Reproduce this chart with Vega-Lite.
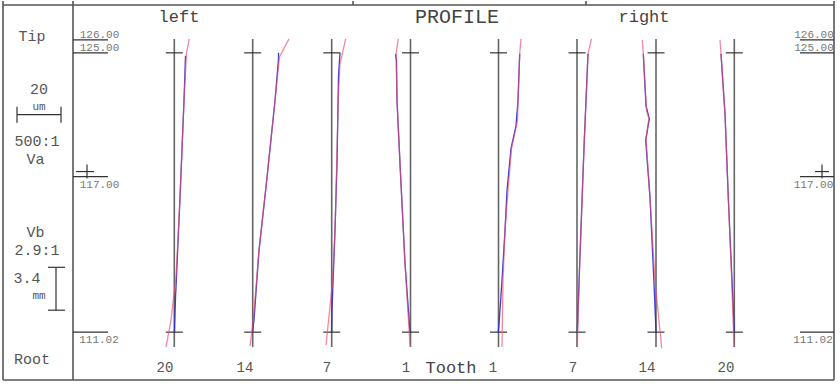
{
  "$schema": "https://vega.github.io/schema/vega-lite/v6.json",
  "width": 840,
  "height": 384,
  "autosize": {"type": "fit", "contains": "padding"},
  "padding": 0,
  "background": "white",
  "config": {"view": {"stroke": null}},
  "datasets": {
    "frame": [
      {"x": 1.5, "x2": 417, "y": 95, "y2": 95},
      {"x": 1.5, "x2": 417, "y": 1, "y2": 1},
      {"x": 1.5, "x2": 1.5, "y": 1, "y2": 96},
      {"x": 417, "x2": 417, "y": 1, "y2": 96},
      {"x": 36.5, "x2": 36.5, "y": 1, "y2": 96},
      {"x": 176.5, "x2": 176.5, "y": 95, "y2": 96},
      {"x": 293, "x2": 293, "y": 95, "y2": 96}
    ],
    "marks": [
      {"x": 36.5, "x2": 54, "y": 86.25, "y2": 86.25},
      {"x": 36.5, "x2": 54, "y": 83, "y2": 83},
      {"x": 36.5, "x2": 54, "y": 52, "y2": 52},
      {"x": 36.5, "x2": 54, "y": 13, "y2": 13},
      {"x": 400, "x2": 417, "y": 86.25, "y2": 86.25},
      {"x": 400, "x2": 417, "y": 83, "y2": 83},
      {"x": 400, "x2": 417, "y": 52, "y2": 52},
      {"x": 400, "x2": 417, "y": 13, "y2": 13},
      {"x": 38, "x2": 47, "y": 53.25, "y2": 53.25},
      {"x": 43.5, "x2": 43.5, "y": 55, "y2": 51.5},
      {"x": 407.5, "x2": 414.5, "y": 53.25, "y2": 53.25},
      {"x": 411, "x2": 411, "y": 55, "y2": 51.5},
      {"x": 8.5, "x2": 30.5, "y": 67.5, "y2": 67.5},
      {"x": 8.5, "x2": 8.5, "y": 69.5, "y2": 65.5},
      {"x": 30.5, "x2": 30.5, "y": 69.5, "y2": 65.5},
      {"x": 28, "x2": 28, "y": 29.25, "y2": 18.5},
      {"x": 24, "x2": 32.5, "y": 29.25, "y2": 29.25},
      {"x": 24, "x2": 32.5, "y": 18.5, "y2": 18.5}
    ],
    "refs": [
      {"x": 87.15, "x2": 87.15, "y": 86.5, "y2": 9.25},
      {"x": 126.35, "x2": 126.35, "y": 86.5, "y2": 9.25},
      {"x": 165.85, "x2": 165.85, "y": 86.5, "y2": 9.25},
      {"x": 205.25, "x2": 205.25, "y": 86.5, "y2": 9.25},
      {"x": 249.25, "x2": 249.25, "y": 86.5, "y2": 9.25},
      {"x": 288.5, "x2": 288.5, "y": 86.5, "y2": 9.25},
      {"x": 328, "x2": 328, "y": 86.5, "y2": 9.25},
      {"x": 367.15, "x2": 367.15, "y": 86.5, "y2": 9.25}
    ],
    "crosses": [
      {"x": 82.9, "x2": 91.4, "y": 83, "y2": 83},
      {"x": 82.9, "x2": 91.4, "y": 13, "y2": 13},
      {"x": 122.1, "x2": 130.6, "y": 83, "y2": 83},
      {"x": 122.1, "x2": 130.6, "y": 13, "y2": 13},
      {"x": 161.6, "x2": 170.1, "y": 83, "y2": 83},
      {"x": 161.6, "x2": 170.1, "y": 13, "y2": 13},
      {"x": 201, "x2": 209.5, "y": 83, "y2": 83},
      {"x": 201, "x2": 209.5, "y": 13, "y2": 13},
      {"x": 245, "x2": 253.5, "y": 83, "y2": 83},
      {"x": 245, "x2": 253.5, "y": 13, "y2": 13},
      {"x": 284.25, "x2": 292.75, "y": 83, "y2": 83},
      {"x": 284.25, "x2": 292.75, "y": 13, "y2": 13},
      {"x": 323.75, "x2": 332.25, "y": 83, "y2": 83},
      {"x": 323.75, "x2": 332.25, "y": 13, "y2": 13},
      {"x": 362.9, "x2": 371.4, "y": 83, "y2": 83},
      {"x": 362.9, "x2": 371.4, "y": 13, "y2": 13}
    ],
    "blue": [
      {"trace": "L20", "i": 1, "x": 92.75, "y": 82.25},
      {"trace": "L20", "i": 2, "x": 92, "y": 71},
      {"trace": "L20", "i": 3, "x": 90, "y": 46.75},
      {"trace": "L20", "i": 4, "x": 88.25, "y": 26.75},
      {"trace": "L20", "i": 5, "x": 87.75, "y": 21.75},
      {"trace": "L20", "i": 6, "x": 87.25, "y": 13},
      {"trace": "L14", "i": 1, "x": 139.25, "y": 83},
      {"trace": "L14", "i": 2, "x": 139.25, "y": 81.5},
      {"trace": "L14", "i": 3, "x": 137.5, "y": 71},
      {"trace": "L14", "i": 4, "x": 133.35, "y": 51},
      {"trace": "L14", "i": 5, "x": 129.5, "y": 33.5},
      {"trace": "L14", "i": 6, "x": 127, "y": 16},
      {"trace": "L14", "i": 7, "x": 126.25, "y": 13},
      {"trace": "L7", "i": 1, "x": 170, "y": 83},
      {"trace": "L7", "i": 2, "x": 169.25, "y": 77.25},
      {"trace": "L7", "i": 3, "x": 168.5, "y": 55.25},
      {"trace": "L7", "i": 4, "x": 167.5, "y": 38.5},
      {"trace": "L7", "i": 5, "x": 166.5, "y": 25.25},
      {"trace": "L7", "i": 6, "x": 166, "y": 18.5},
      {"trace": "L7", "i": 7, "x": 165.85, "y": 13},
      {"trace": "L1", "i": 1, "x": 197.75, "y": 82.75},
      {"trace": "L1", "i": 2, "x": 198.25, "y": 81},
      {"trace": "L1", "i": 3, "x": 198.5, "y": 71},
      {"trace": "L1", "i": 4, "x": 200, "y": 55.25},
      {"trace": "L1", "i": 5, "x": 202.5, "y": 30.25},
      {"trace": "L1", "i": 6, "x": 205, "y": 13},
      {"trace": "R1", "i": 1, "x": 259.85, "y": 82.75},
      {"trace": "R1", "i": 2, "x": 259, "y": 71},
      {"trace": "R1", "i": 3, "x": 258, "y": 64.75},
      {"trace": "R1", "i": 4, "x": 255.5, "y": 59},
      {"trace": "R1", "i": 5, "x": 253.5, "y": 48.5},
      {"trace": "R1", "i": 6, "x": 252.5, "y": 38.5},
      {"trace": "R1", "i": 7, "x": 251, "y": 26},
      {"trace": "R1", "i": 8, "x": 250, "y": 18.5},
      {"trace": "R1", "i": 9, "x": 249.15, "y": 13},
      {"trace": "R7", "i": 1, "x": 294, "y": 82.75},
      {"trace": "R7", "i": 2, "x": 292, "y": 59.25},
      {"trace": "R7", "i": 3, "x": 289.85, "y": 30.25},
      {"trace": "R7", "i": 4, "x": 288.65, "y": 13},
      {"trace": "R14", "i": 1, "x": 321.65, "y": 82.75},
      {"trace": "R14", "i": 2, "x": 323, "y": 69.75},
      {"trace": "R14", "i": 3, "x": 324.65, "y": 66.5},
      {"trace": "R14", "i": 4, "x": 322.85, "y": 61},
      {"trace": "R14", "i": 5, "x": 325, "y": 46.75},
      {"trace": "R14", "i": 6, "x": 327, "y": 25.25},
      {"trace": "R14", "i": 7, "x": 328, "y": 13},
      {"trace": "R20", "i": 1, "x": 360.5, "y": 82.75},
      {"trace": "R20", "i": 2, "x": 362.5, "y": 67.75},
      {"trace": "R20", "i": 3, "x": 364.15, "y": 46.75},
      {"trace": "R20", "i": 4, "x": 366, "y": 26},
      {"trace": "R20", "i": 5, "x": 367.15, "y": 13}
    ],
    "red": [
      {"trace": "L20", "i": 1, "x": 94.65, "y": 86.5},
      {"trace": "L20", "i": 2, "x": 93.25, "y": 83},
      {"trace": "L20", "i": 3, "x": 92, "y": 71},
      {"trace": "L20", "i": 4, "x": 90, "y": 46.75},
      {"trace": "L20", "i": 5, "x": 88, "y": 26.75},
      {"trace": "L20", "i": 6, "x": 85.5, "y": 16},
      {"trace": "L20", "i": 7, "x": 83, "y": 9.25},
      {"trace": "L14", "i": 1, "x": 144.5, "y": 86.5},
      {"trace": "L14", "i": 2, "x": 139.75, "y": 82},
      {"trace": "L14", "i": 3, "x": 137.5, "y": 71},
      {"trace": "L14", "i": 4, "x": 133.35, "y": 51},
      {"trace": "L14", "i": 5, "x": 129.5, "y": 33.5},
      {"trace": "L14", "i": 6, "x": 126.65, "y": 16},
      {"trace": "L14", "i": 7, "x": 125, "y": 9.5},
      {"trace": "L7", "i": 1, "x": 172.85, "y": 86.5},
      {"trace": "L7", "i": 2, "x": 170, "y": 80.25},
      {"trace": "L7", "i": 3, "x": 169.15, "y": 71.75},
      {"trace": "L7", "i": 4, "x": 168.35, "y": 55.25},
      {"trace": "L7", "i": 5, "x": 167.5, "y": 38.5},
      {"trace": "L7", "i": 6, "x": 166.35, "y": 26},
      {"trace": "L7", "i": 7, "x": 163, "y": 9.75},
      {"trace": "L1", "i": 1, "x": 199.15, "y": 86.5},
      {"trace": "L1", "i": 2, "x": 198, "y": 82.75},
      {"trace": "L1", "i": 3, "x": 198.5, "y": 71},
      {"trace": "L1", "i": 4, "x": 200, "y": 55.25},
      {"trace": "L1", "i": 5, "x": 202.5, "y": 30.25},
      {"trace": "L1", "i": 6, "x": 205, "y": 9.75},
      {"trace": "R1", "i": 1, "x": 260.5, "y": 86.5},
      {"trace": "R1", "i": 2, "x": 259.85, "y": 82.75},
      {"trace": "R1", "i": 3, "x": 259, "y": 71},
      {"trace": "R1", "i": 4, "x": 258.75, "y": 66},
      {"trace": "R1", "i": 5, "x": 255.75, "y": 59},
      {"trace": "R1", "i": 6, "x": 254, "y": 48.5},
      {"trace": "R1", "i": 7, "x": 252.5, "y": 38.5},
      {"trace": "R1", "i": 8, "x": 251.5, "y": 26},
      {"trace": "R1", "i": 9, "x": 251, "y": 9.25},
      {"trace": "R7", "i": 1, "x": 295.75, "y": 86.5},
      {"trace": "R7", "i": 2, "x": 294, "y": 82.75},
      {"trace": "R7", "i": 3, "x": 292, "y": 59.25},
      {"trace": "R7", "i": 4, "x": 289.85, "y": 30.25},
      {"trace": "R7", "i": 5, "x": 288.65, "y": 9.25},
      {"trace": "R14", "i": 1, "x": 321.15, "y": 86.25},
      {"trace": "R14", "i": 2, "x": 321.65, "y": 82.75},
      {"trace": "R14", "i": 3, "x": 323.25, "y": 68.5},
      {"trace": "R14", "i": 4, "x": 324.5, "y": 66.5},
      {"trace": "R14", "i": 5, "x": 323, "y": 61.5},
      {"trace": "R14", "i": 6, "x": 325, "y": 46.75},
      {"trace": "R14", "i": 7, "x": 327.5, "y": 26},
      {"trace": "R14", "i": 8, "x": 330.85, "y": 9},
      {"trace": "R20", "i": 1, "x": 360, "y": 86.25},
      {"trace": "R20", "i": 2, "x": 360.5, "y": 82.75},
      {"trace": "R20", "i": 3, "x": 362.5, "y": 67.75},
      {"trace": "R20", "i": 4, "x": 364.15, "y": 46.75},
      {"trace": "R20", "i": 5, "x": 365.85, "y": 26},
      {"trace": "R20", "i": 6, "x": 367, "y": 9.25}
    ],
    "texts": [
      {"x": 89.5, "y": 92, "t": "left", "role": "title"},
      {"x": 228.5, "y": 92, "t": "PROFILE", "role": "big"},
      {"x": 322, "y": 92, "t": "right", "role": "title"},
      {"x": 16, "y": 87.25, "t": "Tip", "role": "side"},
      {"x": 19.5, "y": 73.9, "t": "20", "role": "side"},
      {"x": 19.5, "y": 69.4, "t": "um", "role": "unit"},
      {"x": 18.5, "y": 61, "t": "500:1", "role": "side"},
      {"x": 17.75, "y": 56.5, "t": "Va", "role": "side"},
      {"x": 17.75, "y": 38, "t": "Vb", "role": "side"},
      {"x": 18.5, "y": 33.5, "t": "2.9:1", "role": "side"},
      {"x": 13.5, "y": 26.6, "t": "3.4", "role": "side"},
      {"x": 19.5, "y": 22.1, "t": "mm", "role": "unit"},
      {"x": 16, "y": 6.25, "t": "Root", "role": "side"},
      {"x": 49.75, "y": 87.5, "t": "126.00", "role": "val"},
      {"x": 49.75, "y": 84.25, "t": "125.00", "role": "val"},
      {"x": 49.75, "y": 50, "t": "117.00", "role": "val"},
      {"x": 49.5, "y": 11, "t": "111.02", "role": "val"},
      {"x": 407, "y": 87.5, "t": "126.00", "role": "val"},
      {"x": 407, "y": 84.25, "t": "125.00", "role": "val"},
      {"x": 406.75, "y": 50, "t": "117.00", "role": "val"},
      {"x": 406.5, "y": 11, "t": "111.02", "role": "val"},
      {"x": 82.5, "y": 4, "t": "20", "role": "num"},
      {"x": 122.5, "y": 4, "t": "14", "role": "num"},
      {"x": 163.5, "y": 4, "t": "7", "role": "num"},
      {"x": 203, "y": 4, "t": "1", "role": "num"},
      {"x": 225.5, "y": 4, "t": "Tooth", "role": "tooth"},
      {"x": 246.5, "y": 4, "t": "1", "role": "num"},
      {"x": 286.5, "y": 4, "t": "7", "role": "num"},
      {"x": 323.5, "y": 4, "t": "14", "role": "num"},
      {"x": 363, "y": 4, "t": "20", "role": "num"}
    ]
  },
  "encoding": {
    "x": {"field": "x", "type": "quantitative", "scale": {"domain": [0, 420], "nice": false, "zero": false}, "axis": null},
    "y": {"field": "y", "type": "quantitative", "scale": {"domain": [0, 96], "nice": false, "zero": false}, "axis": null}
  },
  "layer": [
    {
      "data": {"name": "frame"},
      "mark": {"type": "rule", "color": "#555555", "strokeWidth": 1.6},
      "encoding": {"x2": {"field": "x2"}, "y2": {"field": "y2"}}
    },
    {
      "data": {"name": "marks"},
      "mark": {"type": "rule", "color": "#333333", "strokeWidth": 1.2},
      "encoding": {"x2": {"field": "x2"}, "y2": {"field": "y2"}}
    },
    {
      "data": {"name": "refs"},
      "mark": {"type": "rule", "color": "#666666", "strokeWidth": 1.6},
      "encoding": {"x2": {"field": "x2"}, "y2": {"field": "y2"}}
    },
    {
      "data": {"name": "crosses"},
      "mark": {"type": "rule", "color": "#222222", "strokeWidth": 1.1},
      "encoding": {"x2": {"field": "x2"}, "y2": {"field": "y2"}}
    },
    {
      "data": {"name": "blue"},
      "mark": {"type": "line", "color": "#2a2ad0", "strokeWidth": 1.3, "opacity": 0.9},
      "encoding": {"detail": {"field": "trace"}, "order": {"field": "i", "type": "quantitative"}}
    },
    {
      "data": {"name": "red"},
      "mark": {"type": "line", "color": "#ee4a6a", "strokeWidth": 1.3, "opacity": 0.65},
      "encoding": {"detail": {"field": "trace"}, "order": {"field": "i", "type": "quantitative"}}
    },
    {
      "data": {"name": "texts"},
      "transform": [{"filter": "datum.role === 'title'"}],
      "mark": {"type": "text", "font": "Liberation Mono", "fontSize": 17, "fill": "#444444", "baseline": "middle", "align": "center"},
      "encoding": {"text": {"field": "t"}}
    },
    {
      "data": {"name": "texts"},
      "transform": [{"filter": "datum.role === 'big'"}],
      "mark": {"type": "text", "font": "Liberation Mono", "fontSize": 20, "fill": "#444444", "baseline": "middle", "align": "center"},
      "encoding": {"text": {"field": "t"}}
    },
    {
      "data": {"name": "texts"},
      "transform": [{"filter": "datum.role === 'side'"}],
      "mark": {"type": "text", "font": "Liberation Mono", "fontSize": 15, "fill": "#555555", "baseline": "middle", "align": "center"},
      "encoding": {"text": {"field": "t"}}
    },
    {
      "data": {"name": "texts"},
      "transform": [{"filter": "datum.role === 'unit'"}],
      "mark": {"type": "text", "font": "Liberation Mono", "fontSize": 11, "fill": "#555555", "baseline": "middle", "align": "center"},
      "encoding": {"text": {"field": "t"}}
    },
    {
      "data": {"name": "texts"},
      "transform": [{"filter": "datum.role === 'val'"}],
      "mark": {"type": "text", "font": "Liberation Mono", "fontSize": 11, "fill": "#777777", "baseline": "middle", "align": "center"},
      "encoding": {"text": {"field": "t"}}
    },
    {
      "data": {"name": "texts"},
      "transform": [{"filter": "datum.role === 'num'"}],
      "mark": {"type": "text", "font": "Liberation Mono", "fontSize": 14, "fill": "#555555", "baseline": "middle", "align": "center"},
      "encoding": {"text": {"field": "t"}}
    },
    {
      "data": {"name": "texts"},
      "transform": [{"filter": "datum.role === 'tooth'"}],
      "mark": {"type": "text", "font": "Liberation Mono", "fontSize": 17, "fill": "#444444", "baseline": "middle", "align": "center"},
      "encoding": {"text": {"field": "t"}}
    }
  ]
}
